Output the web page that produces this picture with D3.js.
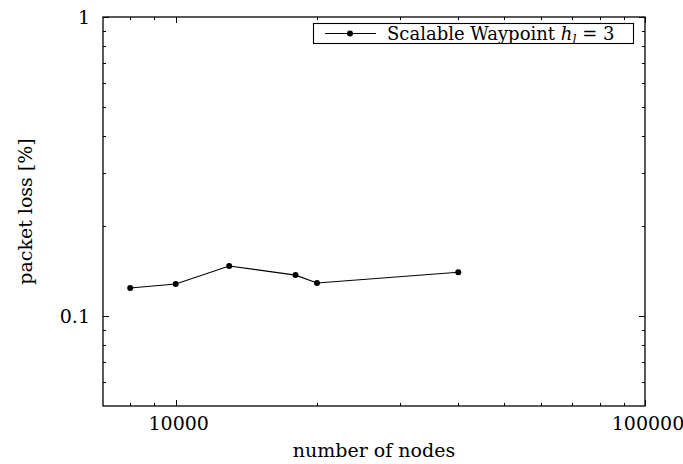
<!DOCTYPE html>
<html>
<head>
<meta charset="utf-8">
<script src="https://cdn.jsdelivr.net/npm/d3@7"></script>
<style>
  html, body { margin: 0; padding: 0; background: #fff; }
</style>
</head>
<body>
<svg id="chart" width="683" height="464"></svg>
<script>
// Data
const nodes = [8000, 10000, 13000, 18000, 20000, 40000];
const loss = [0.124, 0.128, 0.147, 0.137, 0.129, 0.140];
const xMajorTicks = [10000, 100000];
const xMinorTicks = [8000, 9000, 20000, 30000, 40000, 50000, 60000, 70000, 80000, 90000];
const yMajorTicks = [0.1, 1];
const yMinorTicks = [0.06, 0.07, 0.08, 0.09, 0.2, 0.3, 0.4, 0.5, 0.6, 0.7, 0.8, 0.9];
const xTickLabels = ["10000", "100000"];
const yTickLabels = ["0.1", "1"];
const seriesName = "Scalable Waypoint";

const FONT = "DejaVu Serif";
const svg = d3.select("#chart").attr("font-family", FONT);
const L = 103, R = 645, T = 17, B = 406;
const fs = 19;

const x = d3.scaleLog().domain([7000, 100000]).range([L, R]);
const y = d3.scaleLog().domain([0.05, 1]).range([B, T]);

const g = svg.append("g");

function txt(sel) { return sel.append("text").attr("font-family", FONT).attr("fill", "#000"); }

// Tick marks (inward, mirrored)
function xTicks(vals, len) {
  vals.forEach(v => {
    const px = Math.round(x(v)) + 0.5;
    g.append("line").attr("x1", px).attr("x2", px).attr("y1", B).attr("y2", B - len)
      .attr("stroke", "#000").attr("stroke-width", 1);
    g.append("line").attr("x1", px).attr("x2", px).attr("y1", T).attr("y2", T + len)
      .attr("stroke", "#000").attr("stroke-width", 1);
  });
}
function yTicks(vals, len) {
  vals.forEach(v => {
    const py = Math.round(y(v)) + 0.5;
    g.append("line").attr("x1", L).attr("x2", L + len).attr("y1", py).attr("y2", py)
      .attr("stroke", "#000").attr("stroke-width", 1);
    g.append("line").attr("x1", R).attr("x2", R - len).attr("y1", py).attr("y2", py)
      .attr("stroke", "#000").attr("stroke-width", 1);
  });
}
xTicks(xMajorTicks, 6);
xTicks(xMinorTicks, 3);
yTicks(yMajorTicks, 6);
yTicks(yMinorTicks, 3);

// Frame
g.append("rect").attr("x", L).attr("y", T).attr("width", R - L).attr("height", B - T)
  .attr("fill", "none").attr("stroke", "#000").attr("stroke-width", 1.3);

// Tick labels
xMajorTicks.forEach((v, i) => {
  txt(g).attr("x", x(v) + 3).attr("y", 430)
    .attr("text-anchor", "middle").attr("font-size", fs).text(xTickLabels[i]);
});
yMajorTicks.forEach((v, i) => {
  txt(g).attr("x", 90).attr("y", y(v) + 7)
    .attr("text-anchor", "end").attr("font-size", fs).text(yTickLabels[i]);
});

// Axis labels
txt(g).attr("x", (L + R) / 2).attr("y", 457)
  .attr("text-anchor", "middle").attr("font-size", fs).text("number of nodes");
txt(g).attr("transform", `translate(32,${(T + B) / 2}) rotate(-90)`)
  .attr("text-anchor", "middle").attr("font-size", fs).text("packet loss [%]");

// Series
const data = nodes.map((n, i) => [n, loss[i]]);
const line = d3.line().x(d => x(d[0])).y(d => y(d[1]));
g.append("path").datum(data).attr("d", line)
  .attr("fill", "none").attr("stroke", "#000").attr("stroke-width", 1.1);
g.selectAll("circle.pt").data(data).enter().append("circle")
  .attr("class", "pt").attr("cx", d => x(d[0])).attr("cy", d => y(d[1])).attr("r", 3)
  .attr("fill", "#000");

// Legend
const lfs = 18;
const lg = g.append("g");
lg.append("rect").attr("x", 313.5).attr("y", 23.5).attr("width", 320).attr("height", 20)
  .attr("fill", "#fff").attr("stroke", "#000").attr("stroke-width", 1.1);
lg.append("line").attr("x1", 325).attr("x2", 376).attr("y1", 33.5).attr("y2", 33.5)
  .attr("stroke", "#000").attr("stroke-width", 1.1);
lg.append("circle").attr("cx", 350).attr("cy", 33.5).attr("r", 3).attr("fill", "#000");
const lt = txt(lg).attr("x", 387).attr("y", 40).attr("font-size", lfs);
lt.append("tspan").text(seriesName + " ");
lt.append("tspan").attr("font-style", "italic").text("h");
lt.append("tspan").attr("font-style", "italic").attr("font-size", lfs * 0.7).attr("dy", 4).text("l");
lt.append("tspan").attr("dy", -4).text(" = 3");
</script>
</body>
</html>
